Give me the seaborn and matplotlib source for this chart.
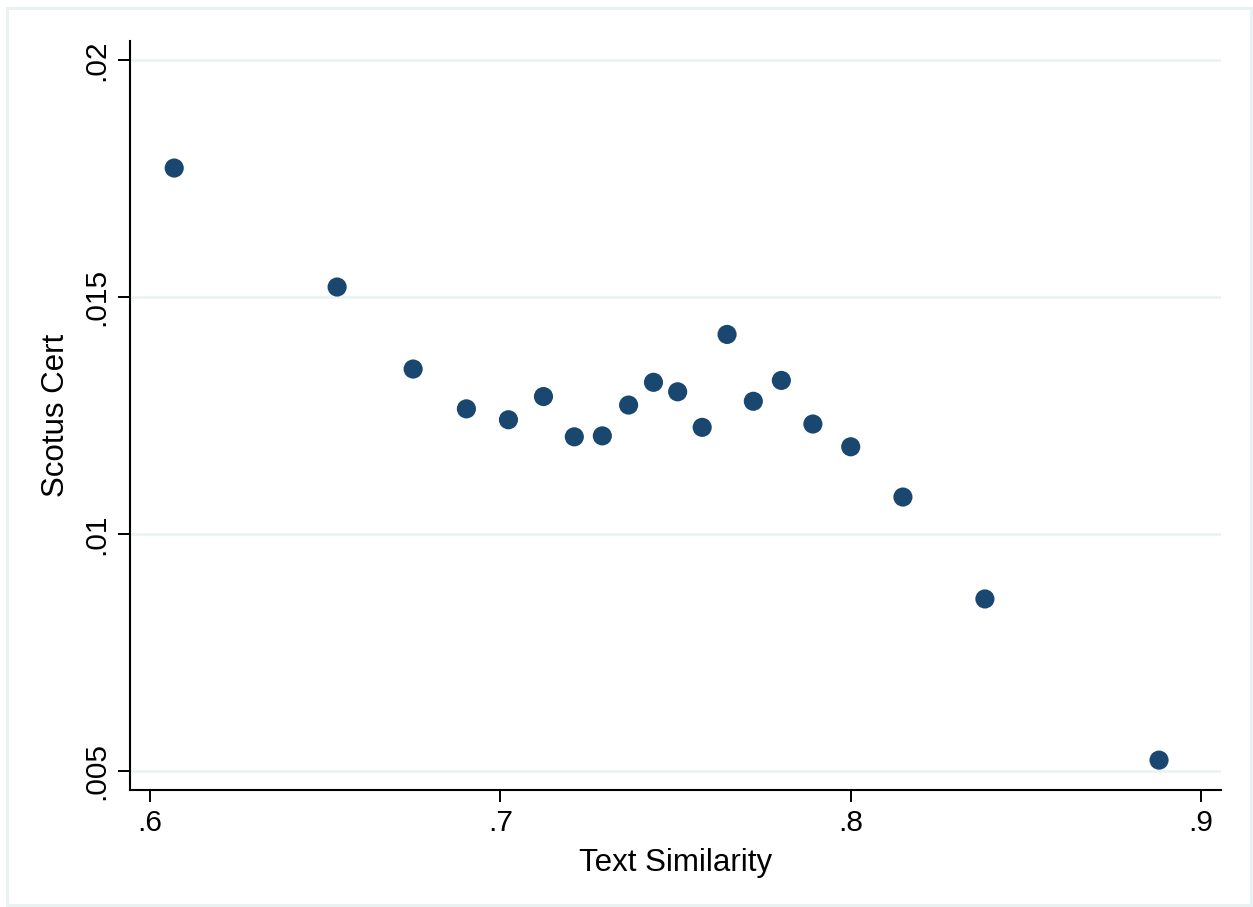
import matplotlib
matplotlib.use("Agg")
import matplotlib.pyplot as plt
from matplotlib.patches import Rectangle
import pandas as pd
import seaborn as sns

# binned scatter values
text_similarity = [0.6069, 0.6534, 0.6751, 0.6903, 0.7023, 0.7123, 0.7211,
                   0.7291, 0.7366, 0.7437, 0.7506, 0.7576, 0.7647, 0.7722,
                   0.7802, 0.7892, 0.8000, 0.8149, 0.8383, 0.8880]
scotus_cert = [0.01772, 0.01521, 0.01348, 0.01264, 0.01241, 0.01290, 0.01205,
               0.01207, 0.01272, 0.01320, 0.01300, 0.01225, 0.01421, 0.01280,
               0.01324, 0.01232, 0.01184, 0.01078, 0.00863, 0.00523]

x_ticks = [0.6, 0.7, 0.8, 0.9]
x_tick_labels = [".6", ".7", ".8", ".9"]
y_ticks = [0.005, 0.01, 0.015, 0.02]
y_tick_labels = [".005", ".01", ".015", ".02"]

df = pd.DataFrame({"Text Similarity": text_similarity,
                   "Scotus Cert": scotus_cert})

sns.set_style("white")
plt.rcParams["font.family"] = ["Liberation Sans", "DejaVu Sans"]
plt.rcParams["text.color"] = "black"
plt.rcParams["axes.labelcolor"] = "black"
plt.rcParams["xtick.color"] = "black"
plt.rcParams["ytick.color"] = "black"

NAVY = "#1a476f"
GRID = "#eaf1f2"

fig = plt.figure(figsize=(12.53, 9.07), dpi=100)
ax = fig.add_axes([0.1038, 0.129, 0.8707, 0.8258])

ax.set_axisbelow(True)
for y in y_ticks:
    ax.axhline(y, color=GRID, lw=1.8, zorder=0)

sns.scatterplot(data=df, x="Text Similarity", y="Scotus Cert", ax=ax,
                color=NAVY, s=190, edgecolor="none", linewidth=0, zorder=3)

ax.set_xlim(0.5943, 0.9057)
ax.set_ylim(0.0046, 0.0204)
ax.set_xticks(x_ticks)
ax.set_xticklabels(x_tick_labels)
ax.set_yticks(y_ticks)
ax.set_yticklabels(y_tick_labels, rotation=90, va="center")

ax.tick_params(axis="both", which="major", direction="out", length=8.5,
               width=1.4, labelsize=21.5, left=True, bottom=True)
ax.tick_params(axis="x", pad=5)
ax.tick_params(axis="y", pad=6)
for side in ("top", "right"):
    ax.spines[side].set_visible(False)
for side in ("left", "bottom"):
    ax.spines[side].set_color("black")
    ax.spines[side].set_linewidth(1.5)

ax.set_xlabel("Text Similarity", fontsize=22.5, labelpad=8)
ax.set_ylabel("Scotus Cert", fontsize=22.5, labelpad=8)

# light outer frame like the Stata graph region
fig.patches.append(Rectangle((7 / 1253, 2 / 907), 1244 / 1253, 897 / 907,
                             transform=fig.transFigure, fill=False,
                             edgecolor=GRID, lw=2.2))

fig.savefig("out.png", dpi=100)
